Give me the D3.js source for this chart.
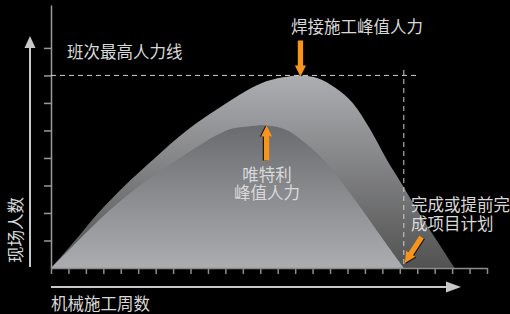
<!DOCTYPE html>
<html lang="zh">
<head>
<meta charset="utf-8">
<title>现场人数</title>
<style>
  body { margin: 0; background: #000; }
  svg { display: block; }
  text { font-family: "Noto Sans CJK SC", "Noto Sans", sans-serif; fill: #d9d9d9; }
</style>
</head>
<body>
<svg width="510" height="314"></svg>
<script src="https://d3js.org/d3.v7.min.js"></script>
<script>
// weeks on the x axis (tick marks only)
var weeks = d3.range(0, 26);
// people ticks on the y axis
var crewTicks = [1, 2, 3, 4, 5, 6, 7, 8];
var shiftMax = 7;

// welding crew curve (outer area)
var weldWeeks = [0, 1.38, 2.71, 4.24, 5.96, 7.78, 10.07, 12.0, 13.3, 14.3, 15.3, 16.3, 17.3, 18.3, 19.25, 20.2, 21.1, 22.1, 23.15];
var weldCrew  = [0, 1, 2, 3, 4, 5, 6, 6.7, 6.93, 7.0, 6.9, 6.55, 6.0, 5.04, 3.94, 2.96, 2.0, 1.02, 0];

// Victaulic crew curve (inner area)
var vicWeeks = [0, 1.57, 3.19, 5.1, 7.39, 10.07, 11.3, 12.36, 13.5, 14.84, 15.99, 17.1, 18.2, 19.2, 20.23];
var vicCrew  = [0, 1, 2, 3, 4, 5, 5.14, 5.18, 5.02, 4.41, 3.68, 2.75, 1.8, 0.9, 0];

var labels = {
  y: "现场人数",
  x: "机械施工周数",
  shift: "班次最高人力线",
  weld: "焊接施工峰值人力",
  vic: ["唯特利", "峰值人力"],
  done: ["完成或提前完", "成项目计划"]
};

var svg = d3.select("svg");

var x = d3.scaleLinear().domain([0, 25]).range([51, 487]);
var y = d3.scaleLinear().domain([0, 9.56]).range([268, 5]);

var defs = svg.append("defs");
var g1 = defs.append("linearGradient").attr("id", "gWeld")
  .attr("x1", 0).attr("y1", 0).attr("x2", 0).attr("y2", 1);
g1.append("stop").attr("offset", 0).attr("stop-color", "#adaeb2");
g1.append("stop").attr("offset", 1).attr("stop-color", "#525252");
var g2 = defs.append("linearGradient").attr("id", "gVic")
  .attr("x1", 0).attr("y1", 0).attr("x2", 0).attr("y2", 1);
g2.append("stop").attr("offset", 0).attr("stop-color", "#6a6b6e");
g2.append("stop").attr("offset", 1).attr("stop-color", "#acadb0");

// y axis
svg.append("g")
  .attr("transform", "translate(" + x(0) + ",0)")
  .call(d3.axisLeft(y).tickValues(crewTicks).tickSize(7).tickSizeOuter(0).tickFormat(""))
  .call(function(a) {
    a.selectAll("path, line").attr("stroke", "#9a9a9a").attr("stroke-width", 1.5);
  });

var area = d3.area()
  .x(function(d) { return x(d[0]); })
  .y0(y(0))
  .y1(function(d) { return y(d[1]); })
  .curve(d3.curveCatmullRom.alpha(0.5));

svg.append("path")
  .datum(d3.zip(weldWeeks, weldCrew))
  .attr("fill", "url(#gWeld)")
  .attr("d", area);

svg.append("path")
  .datum(d3.zip(vicWeeks, vicCrew))
  .attr("fill", "url(#gVic)")
  .attr("d", area);

// x axis
svg.append("g")
  .attr("transform", "translate(0," + y(0) + ")")
  .call(d3.axisBottom(x).tickValues(weeks).tickSize(6).tickSizeOuter(0).tickFormat(""))
  .call(function(a) {
    a.selectAll("path, line").attr("stroke", "#8c8c8c").attr("stroke-width", 1.5);
  });

// dashed guide lines
var vicEnd = vicWeeks[vicWeeks.length - 1];
svg.append("line")
  .attr("x1", x(0)).attr("x2", 420)
  .attr("y1", y(shiftMax)).attr("y2", y(shiftMax))
  .attr("stroke", "#cfcfcf").attr("stroke-width", 1).attr("stroke-dasharray", "5,4");
svg.append("line")
  .attr("x1", x(vicEnd)).attr("x2", x(vicEnd))
  .attr("y1", 70).attr("y2", y(0))
  .attr("stroke", "#cfcfcf").attr("stroke-width", 1).attr("stroke-dasharray", "5,4");

// axis arrows
svg.append("line").attr("x1", 30).attr("x2", 30).attr("y1", 267).attr("y2", 46)
  .attr("stroke", "#c8c8c8").attr("stroke-width", 2);
svg.append("path").attr("d", "M30,36L24.5,48L35.5,48Z").attr("fill", "#c8c8c8");
svg.append("line").attr("x1", 51).attr("x2", 448).attr("y1", 287).attr("y2", 287)
  .attr("stroke", "#c8c8c8").attr("stroke-width", 2);
svg.append("path").attr("d", "M461,287L446,281.5L446,292.5Z").attr("fill", "#c8c8c8");

// orange call-out arrows
function arrow(tx, ty, angle, len) {
  var sw = 2.6, hw = 5.5, hl = 11;
  var d = "M0,0L" + (-hl) + "," + (-hw) + "L" + (-hl) + "," + (-sw) + "L" + (-len) + "," + (-sw) +
          "L" + (-len) + "," + sw + "L" + (-hl) + "," + sw + "L" + (-hl) + "," + hw + "Z";
  var a = svg.append("g").attr("transform", "translate(" + tx + "," + ty + ") rotate(" + angle + ")");
  a.append("path").attr("d", d).attr("fill", "#1a1208").attr("transform", "translate(0,-1.2)");
  a.append("path").attr("d", d).attr("fill", "#f7941d");
}
var wi = weldCrew.indexOf(d3.max(weldCrew));
arrow(x(weldWeeks[wi]), y(weldCrew[wi]) + 1, 90, 36);
var vi = vicCrew.indexOf(d3.max(vicCrew));
arrow(x(vicWeeks[vi]), y(vicCrew[vi]), -90, 35);
arrow(x(vicEnd) + 1, y(0) - 5, 123, 31);

// text
var fs = "16.5px";
svg.append("text").attr("x", 67).attr("y", 51).attr("dominant-baseline", "central")
  .style("font-size", fs).text(labels.shift);
svg.append("text").attr("x", 291).attr("y", 26).attr("dominant-baseline", "central")
  .style("font-size", fs).text(labels.weld);
svg.selectAll(".vic").data(labels.vic).enter().append("text")
  .attr("x", x(vicWeeks[vi]) + 0.5).attr("y", function(d, i) { return 174 + i * 18; })
  .attr("text-anchor", "middle").attr("dominant-baseline", "central")
  .style("font-size", fs).text(function(d) { return d; });
svg.selectAll(".done").data(labels.done).enter().append("text")
  .attr("x", 411).attr("y", function(d, i) { return 204 + i * 19; })
  .attr("dominant-baseline", "central")
  .style("font-size", fs).text(function(d) { return d; });
svg.append("text").attr("x", 51).attr("y", 303).attr("dominant-baseline", "central")
  .style("font-size", fs).text(labels.x);
svg.append("text").attr("transform", "translate(15,230) rotate(-90)")
  .attr("text-anchor", "middle").attr("dominant-baseline", "central")
  .style("font-size", fs).text(labels.y);
</script>
</body>
</html>
